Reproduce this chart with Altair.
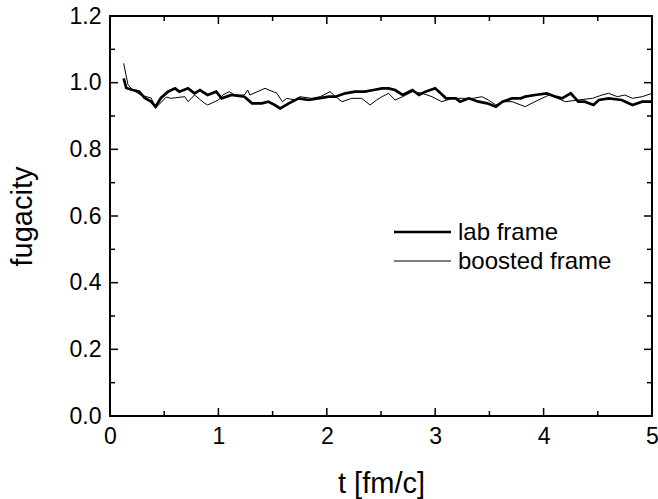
import altair as alt
import pandas as pd

# ---- data ----
t_lab = [0.126, 0.15, 0.21, 0.27, 0.32, 0.38, 0.42, 0.47, 0.535, 0.6, 0.64, 0.72, 0.78, 0.83, 0.9,
         0.98, 1.03, 1.12, 1.24, 1.31, 1.40, 1.46, 1.52, 1.57, 1.65, 1.74, 1.83, 1.92, 2.02, 2.08,
         2.17, 2.26, 2.35, 2.43, 2.51, 2.57, 2.63, 2.70, 2.79, 2.85, 2.91, 3.00, 3.05, 3.10, 3.19,
         3.23, 3.31, 3.40, 3.48, 3.56, 3.62, 3.71, 3.79, 3.83, 3.92, 4.03, 4.11, 4.17, 4.25, 4.32,
         4.38, 4.46, 4.51, 4.60, 4.72, 4.82, 4.91, 5.0]
v_lab = [1.013, 0.984, 0.978, 0.973, 0.954, 0.943, 0.928, 0.954, 0.973, 0.983, 0.973, 0.983, 0.968, 0.978, 0.963,
         0.973, 0.953, 0.963, 0.958, 0.938, 0.938, 0.943, 0.933, 0.923, 0.938, 0.953, 0.948, 0.953, 0.958, 0.958,
         0.968, 0.973, 0.973, 0.978, 0.983, 0.983, 0.978, 0.963, 0.978, 0.963, 0.973, 0.983, 0.968, 0.953, 0.953,
         0.943, 0.953, 0.943, 0.938, 0.928, 0.943, 0.953, 0.953, 0.958, 0.963, 0.968, 0.958, 0.953, 0.968, 0.943,
         0.943, 0.933, 0.948, 0.953, 0.948, 0.933, 0.943, 0.943]

t_boost = [0.126, 0.166, 0.21, 0.29, 0.38, 0.42, 0.52, 0.56, 0.69, 0.72, 0.78, 0.87, 0.9, 1.0, 1.04,
           1.1, 1.15, 1.24, 1.27, 1.29, 1.43, 1.54, 1.59, 1.63, 1.71, 1.75, 1.86, 1.94, 2.03, 2.08,
           2.14, 2.23, 2.32, 2.40, 2.46, 2.51, 2.57, 2.63, 2.70, 2.79, 2.88, 2.97, 3.06, 3.16, 3.25,
           3.35, 3.43, 3.49, 3.56, 3.64, 3.71, 3.79, 3.83, 3.92, 4.05, 4.13, 4.20, 4.32, 4.45, 4.54,
           4.60, 4.68, 4.75, 4.82, 4.91, 5.0]
v_boost = [1.058, 0.994, 0.978, 0.962, 0.954, 0.924, 0.957, 0.953, 0.958, 0.943, 0.963, 0.939, 0.933, 0.948, 0.963,
           0.973, 0.963, 0.963, 0.978, 0.963, 0.983, 0.968, 0.943, 0.953, 0.948, 0.958, 0.953, 0.958, 0.973, 0.958,
           0.943, 0.953, 0.953, 0.933, 0.948, 0.958, 0.968, 0.948, 0.958, 0.973, 0.968, 0.958, 0.943, 0.953, 0.953,
           0.953, 0.958, 0.948, 0.933, 0.943, 0.943, 0.933, 0.928, 0.943, 0.963, 0.953, 0.943, 0.948, 0.953, 0.963,
           0.968, 0.958, 0.963, 0.953, 0.958, 0.968]

series_names = ["lab frame", "boosted frame"]

x_major = [0, 1, 2, 3, 4, 5]
x_minor = [0.5, 1.5, 2.5, 3.5, 4.5]
y_major = [0.0, 0.2, 0.4, 0.6, 0.8, 1.0, 1.2]
y_minor = [0.1, 0.3, 0.5, 0.7, 0.9, 1.1]

W, H = 542, 400
FONT = "Liberation Sans"

df = pd.concat([
    pd.DataFrame({"t": t_lab, "f": v_lab, "series": series_names[0], "order": range(len(t_lab))}),
    pd.DataFrame({"t": t_boost, "f": v_boost, "series": series_names[1], "order": range(len(t_boost))}),
])

xs = alt.Scale(domain=[0, 5], nice=False, zero=False)
ys = alt.Scale(domain=[0, 1.2], nice=False, zero=False)

x_axis = alt.Axis(values=x_major, ticks=False, domain=False, grid=False, labelFontSize=23,
                  labelPadding=9, labelFont=FONT, labelColor="black", labelFlush=False,
                  title="t [fm/c]", titleFont=FONT, titleFontSize=29, titleFontWeight="normal",
                  titleColor="black", titleX=W / 2, titleY=76, titleBaseline="alphabetic",
                  titleAlign="center")
y_axis = alt.Axis(values=y_major, format=".1f", ticks=False, domain=False, grid=False,
                  labelFontSize=23, labelPadding=9, labelFont=FONT, labelColor="black",
                  labelFlush=False,
                  title="fugacity", titleFont=FONT, titleFontSize=29, titleFontWeight="normal",
                  titleColor="black", titleX=-79, titleY=H / 2, titleAngle=270,
                  titleBaseline="alphabetic", titleAlign="center")

X = alt.X("t:Q", scale=xs, axis=x_axis)
Y = alt.Y("f:Q", scale=ys, axis=y_axis)
sw_scale = alt.Scale(domain=series_names, range=[2.7, 1.0])

lines = alt.Chart(df).mark_line(color="black").encode(
    x=X, y=Y,
    detail="series:N",
    order="order:Q",
    strokeWidth=alt.StrokeWidth("series:N", scale=sw_scale, legend=None),
)

def xticks(vals, length):
    d = pd.DataFrame({"t": vals})
    base = alt.Chart(d).mark_rule(color="black", strokeWidth=1.5)
    bot = base.encode(x=X, y=alt.value(H), y2=alt.value(H - length))
    top = base.encode(x=X, y=alt.value(0), y2=alt.value(length))
    return bot + top

def yticks(vals, length):
    d = pd.DataFrame({"f": vals})
    base = alt.Chart(d).mark_rule(color="black", strokeWidth=1.5)
    left = base.encode(y=Y, x=alt.value(0), x2=alt.value(length))
    right = base.encode(y=Y, x=alt.value(W), x2=alt.value(W - length))
    return left + right

ticks = xticks(x_major, 8) + xticks(x_minor, 5) + yticks(y_major, 8) + yticks(y_minor, 5)

# legend (one entry per series)
legend_layers = []
for name, ypos in zip(series_names, [216, 245]):
    d = pd.DataFrame({"series": [name]})
    ln = alt.Chart(d).mark_rule(color="black").encode(
        x=alt.value(284), x2=alt.value(341), y=alt.value(ypos),
        strokeWidth=alt.StrokeWidth("series:N", scale=sw_scale, legend=None),
    )
    tx = alt.Chart(d).mark_text(align="left", baseline="middle", font=FONT, fontSize=24,
                                color="black").encode(
        x=alt.value(348), y=alt.value(ypos + 1), text="series:N",
    )
    legend_layers += [ln, tx]

chart = alt.layer(lines, ticks, *legend_layers).properties(
    width=W, height=H,
    autosize=alt.AutoSizeParams(type="none"),
    padding={"left": 110, "top": 16, "right": 6, "bottom": 83},
    background="white",
).configure_view(stroke="black", strokeWidth=2)

chart.save("out.html", embed_options={"renderer": "svg", "actions": False})
